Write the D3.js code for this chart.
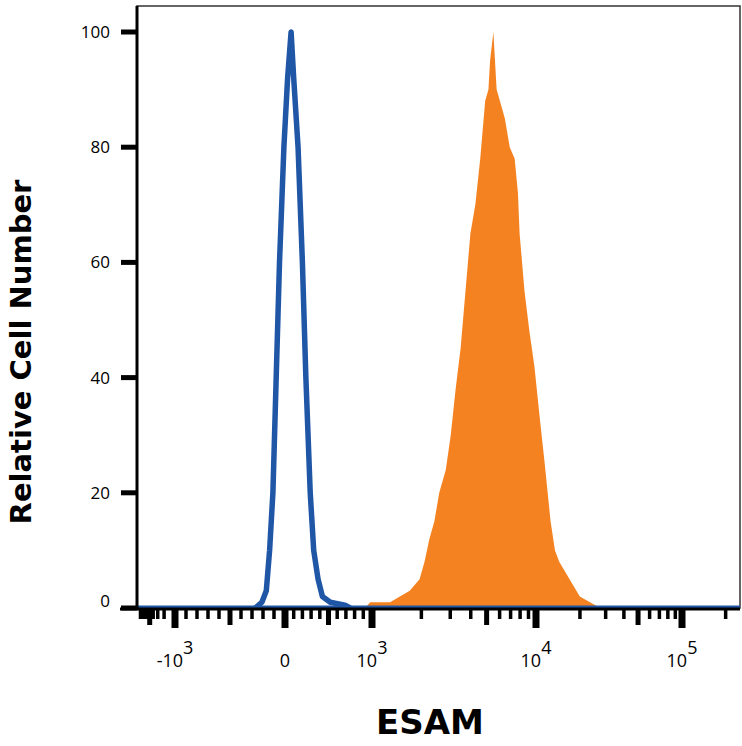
<!DOCTYPE html>
<head>
<meta charset="utf8">
<script src="https://d3js.org/d3.v7.min.js"></script>
<style>body{margin:0;background:#fff}</style>
</head>
<body>
<script>
// x in display units: -1=-10^3, 0=0, 1=10^3, 2=10^4, 3=10^5
var blueX = [-0.27,-0.21,-0.17,-0.14,-0.11,-0.08,-0.05,-0.01,0.03,0.07,0.10,0.15,0.20,0.24,0.29,0.33,0.38,0.43,0.52,0.69,0.75],
    blueY = [0,1,3,10,20,40,60,80,92,100,92,80,60,40,20,10,5,2,1,0.5,0],
    orangeX = [0.92,0.98,1.11,1.17,1.23,1.29,1.32,1.35,1.38,1.41,1.45,1.48,1.51,1.54,1.57,1.60,1.63,1.66,1.69,1.71,1.72,1.74,1.76,1.78,1.81,1.84,1.87,1.89,1.90,1.93,1.96,1.99,2.03,2.06,2.10,2.13,2.16,2.23,2.30,2.37,2.44],
    orangeY = [0,1,1,2,3,5,8,12,15,20,24,30,38,45,55,65,70,78,88,90,95,100,90,88,85,80,78,72,65,55,48,42,32,25,15,10,8,5,2,1,0],
    yTicks = [0,20,40,60,80,100],
    xTicks = [-1,0,1,2,3],
    xTickBase = ["-10","0","10","10","10"],
    xTickExp = ["3","","3","4","5"];

var svg = d3.select("body").append("svg").attr("width",742).attr("height",746);
var x = d3.scaleLinear().domain([-1.35,-1,0,1,2,3,3.4]).range([137,175,285,372,536,682,740]);
var y = d3.scaleLinear().domain([0,100]).range([608,32]);

// minor ticks
var minor = [];
for (var m=2;m<=9;m++){ minor.push({u:-1-Math.log10(m)/3, big:m==5}); }
for (var m=1;m<=9;m++){ minor.push({u:-m/10, big:m==5}); minor.push({u:m/10, big:m==5}); }
for (var k=1;k<=2;k++) for (var m=2;m<=9;m++){ minor.push({u:k+Math.log10(m), big:m==5}); }
minor.push({u:3+Math.log10(2), big:false});

svg.append("rect").attr("x",137).attr("y",6).attr("width",603).attr("height",602)
   .attr("fill","none").attr("stroke","#333").attr("stroke-width",1.5);

var area = d3.area().x(function(d){return x(d[0]);}).y0(y(0)).y1(function(d){return y(d[1]);});
svg.append("path").datum(d3.zip(orangeX,orangeY)).attr("d",area).attr("fill","#f58220");
var line = d3.line().x(function(d){return x(d[0]);}).y(function(d){return y(d[1]);});
svg.append("line").attr("x1",137).attr("x2",740).attr("y1",607).attr("y2",607).attr("stroke","#1f56a6").attr("stroke-width",3);
svg.append("path").datum(d3.zip(blueX,blueY)).attr("d",line).attr("fill","none")
   .attr("stroke","#1f56a6").attr("stroke-width",5.5).attr("stroke-linejoin","round");

// axes
svg.append("line").attr("x1",137).attr("x2",137).attr("y1",6).attr("y2",610).attr("stroke","#000").attr("stroke-width",3);
svg.append("line").attr("x1",120).attr("x2",740).attr("y1",609).attr("y2",609).attr("stroke","#000").attr("stroke-width",3);

svg.selectAll(".yt").data(yTicks).enter().append("line")
   .attr("x1",121).attr("x2",137).attr("y1",function(d){return y(d);}).attr("y2",function(d){return y(d);})
   .attr("stroke","#000").attr("stroke-width",5);
svg.selectAll(".yl").data(yTicks).enter().append("text")
   .attr("x",110).attr("y",function(d){return d==0?y(d)-1:y(d)+6;}).attr("text-anchor","end")
   .attr("font-family","Open Sans, sans-serif").attr("font-size",17).text(function(d){return d;});

svg.selectAll(".mt").data(minor).enter().append("line")
   .attr("x1",function(d){return x(d.u);}).attr("x2",function(d){return x(d.u);})
   .attr("y1",609).attr("y2",function(d){return d.big?625:619;})
   .attr("stroke","#000").attr("stroke-width",function(d){return d.big?5:3.5;});
svg.selectAll(".xt").data(xTicks).enter().append("line")
   .attr("x1",function(d){return x(d);}).attr("x2",function(d){return x(d);})
   .attr("y1",609).attr("y2",628).attr("stroke","#000").attr("stroke-width",7);

var xl = svg.selectAll(".xl").data(xTicks).enter().append("text")
   .attr("x",function(d){return x(d);}).attr("y",667).attr("text-anchor","middle")
   .attr("font-family","Open Sans, sans-serif").attr("font-size",18);
xl.append("tspan").text(function(d,i){return xTickBase[i];});
xl.append("tspan").attr("dy",-13).text(function(d,i){return xTickExp[i];});

svg.append("text").attr("x",430).attr("y",734).attr("text-anchor","middle")
   .attr("font-family","DejaVu Sans, sans-serif").attr("font-weight","bold").attr("font-size",34).text("ESAM");
svg.append("text").attr("transform","translate(31,352) rotate(-90)").attr("text-anchor","middle")
   .attr("font-family","DejaVu Sans, sans-serif").attr("font-weight","bold").attr("font-size",29).text("Relative Cell Number");
</script>
</body>
